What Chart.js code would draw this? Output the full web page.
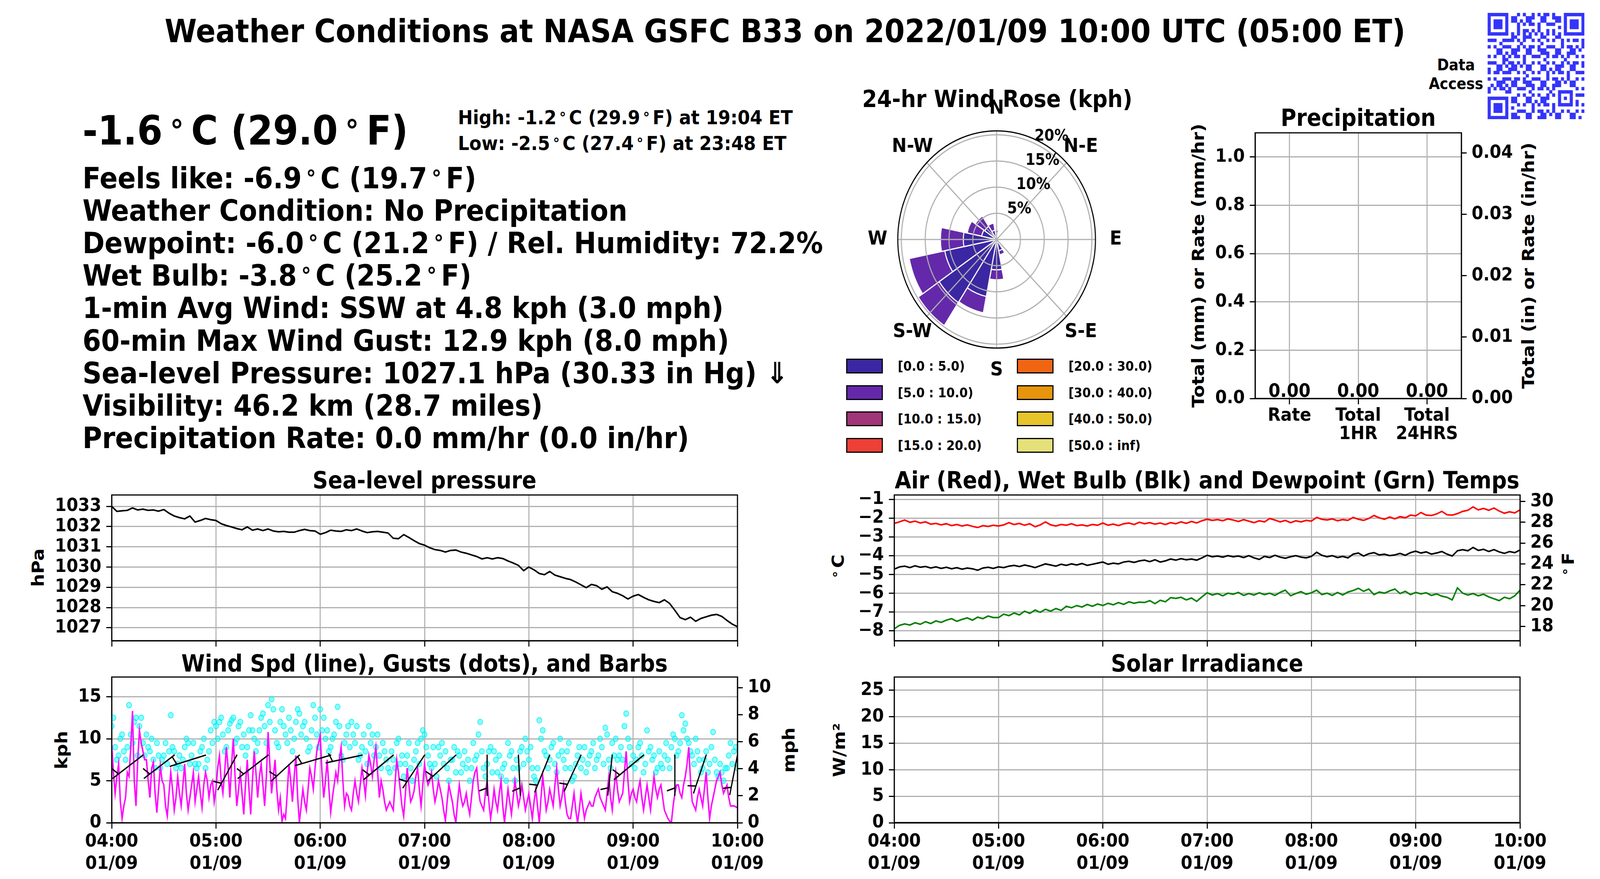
<!DOCTYPE html>
<html>
<head>
<meta charset="utf-8">
<title>Weather Conditions at NASA GSFC B33</title>
<script src="https://cdn.jsdelivr.net/npm/chart.js@4.4.1/dist/chart.umd.min.js"></script>
<style>
  html, body { margin: 0; padding: 0; background: #fff; overflow: hidden; }
  body { font-family: 'DejaVu Sans', sans-serif; font-weight: bold; color: #000; }
  #page { position: absolute; left: 0; top: 0; width: 4500px; height: 2250px; transform-origin: 0 0; background: #fff; }
  .t { position: absolute; white-space: nowrap; line-height: 1; }
  .dg { display: inline-block; width: 0.7em; text-align: center; }
  .big .dg { width: 0.78em; }
  .dg span { font-size: 0.75em; vertical-align: 0.1em; }
  canvas { position: absolute; }
  .lbox { position: absolute; width: 97px; height: 32px; border: 3px solid #000; }
</style>
</head>
<body>
<div id="page"></div>
<script>
// ---- data (times are minutes after 04:00) ----
const hourTicks = ['04:00', '05:00', '06:00', '07:00', '08:00', '09:00', '10:00'];
const dateTick = '01/09';

// sea-level pressure, hPa, every 3 min
const pressure3min = [
  1033.00, 1032.75, 1032.78, 1032.80, 1032.92, 1032.82, 1032.86, 1032.80, 1032.82, 1032.76,
  1032.84, 1032.66, 1032.52, 1032.44, 1032.38, 1032.52, 1032.22, 1032.30, 1032.40, 1032.34,
  1032.30, 1032.14, 1032.05, 1031.98, 1031.90, 1031.84, 1031.98, 1031.82, 1031.88, 1031.80,
  1031.88, 1031.78, 1031.74, 1031.76, 1031.72, 1031.72, 1031.80, 1031.86, 1031.80, 1031.78,
  1031.62, 1031.70, 1031.82, 1031.78, 1031.76, 1031.84, 1031.80, 1031.88, 1031.78, 1031.70,
  1031.74, 1031.76, 1031.72, 1031.68, 1031.42, 1031.40, 1031.60, 1031.46, 1031.30, 1031.16,
  1031.08, 1030.95, 1030.86, 1030.82, 1030.74, 1030.82, 1030.84, 1030.74, 1030.68, 1030.60,
  1030.52, 1030.40, 1030.46, 1030.40, 1030.46, 1030.42, 1030.30, 1030.20, 1030.08, 1029.82,
  1030.00, 1029.86, 1029.68, 1029.62, 1029.78, 1029.60, 1029.52, 1029.44, 1029.38, 1029.26,
  1029.12, 1028.98, 1029.14, 1029.08, 1028.90, 1029.02, 1028.78, 1028.70, 1028.58, 1028.42,
  1028.56, 1028.64, 1028.50, 1028.38, 1028.30, 1028.24, 1028.38, 1028.20, 1027.86, 1027.50,
  1027.40, 1027.52, 1027.32, 1027.46, 1027.54, 1027.62, 1027.66, 1027.56, 1027.36, 1027.18,
  1027.05
];

// temperatures, deg C, every 3 min
const airTemp3min = [
  -2.28, -2.20, -2.10, -2.22, -2.16, -2.26, -2.20, -2.32, -2.28, -2.36,
  -2.30, -2.40, -2.34, -2.42, -2.36, -2.44, -2.50, -2.40, -2.44, -2.38,
  -2.42, -2.36, -2.24, -2.34, -2.28, -2.38, -2.30, -2.46, -2.36, -2.20,
  -2.36, -2.42, -2.34, -2.38, -2.30, -2.40, -2.36, -2.42, -2.34, -2.38,
  -2.26, -2.38, -2.32, -2.40, -2.30, -2.26, -2.34, -2.22, -2.30, -2.24,
  -2.32, -2.26, -2.34, -2.24, -2.30, -2.20, -2.28, -2.18, -2.26, -2.14,
  -2.06, -2.12, -2.08, -2.14, -2.04, -2.10, -2.18, -2.08, -2.16, -2.24,
  -2.14, -2.20, -2.02, -2.10, -2.20, -2.12, -2.24, -2.14, -2.20, -2.12,
  -2.16, -1.96, -2.06, -2.10, -2.04, -2.14, -2.08, -2.12, -1.96, -2.06,
  -2.12, -2.02, -1.86, -1.98, -2.06, -1.94, -2.04, -1.92, -1.98, -1.84,
  -1.88, -1.70, -1.84, -1.86, -1.78, -1.64, -1.82, -1.84, -1.76, -1.64,
  -1.58, -1.40, -1.56, -1.48, -1.58, -1.46, -1.62, -1.74, -1.66, -1.72,
  -1.56
];
const wetBulb3min = [
  -4.72, -4.60, -4.56, -4.64, -4.54, -4.62, -4.58, -4.66, -4.60, -4.68,
  -4.62, -4.70, -4.64, -4.72, -4.66, -4.70, -4.78, -4.66, -4.62, -4.68,
  -4.60, -4.64, -4.56, -4.52, -4.58, -4.50, -4.56, -4.64, -4.54, -4.44,
  -4.50, -4.56, -4.46, -4.52, -4.44, -4.50, -4.42, -4.52, -4.46, -4.40,
  -4.34, -4.46, -4.40, -4.44, -4.34, -4.30, -4.36, -4.28, -4.24, -4.32,
  -4.22, -4.34, -4.28, -4.18, -4.24, -4.16, -4.22, -4.18, -4.24, -4.12,
  -3.98, -4.06, -4.02, -4.08, -4.00, -4.06, -4.02, -4.10, -4.00, -4.12,
  -4.20, -4.04, -4.10, -3.98, -4.08, -4.14, -4.06, -4.00, -4.08, -4.12,
  -4.04, -3.82, -3.98, -4.06, -4.00, -4.10, -4.04, -4.12, -3.92, -3.86,
  -4.02, -3.90, -3.84, -3.96, -3.92, -4.00, -3.96, -3.88, -3.98, -3.84,
  -3.76, -3.86, -3.80, -3.92, -3.86, -3.78, -3.92, -4.02, -3.74, -3.68,
  -3.74, -3.56, -3.72, -3.66, -3.78, -3.68, -3.80, -3.88, -3.78, -3.84,
  -3.70
];
const dewpoint3min = [
  -7.90, -7.72, -7.64, -7.70, -7.58, -7.66, -7.52, -7.62, -7.48, -7.56,
  -7.44, -7.36, -7.50, -7.40, -7.32, -7.44, -7.28, -7.36, -7.22, -7.30,
  -7.30, -7.12, -7.20, -7.06, -7.16, -6.96, -7.08, -6.90, -7.02, -6.86,
  -6.96, -6.82, -6.92, -6.70, -6.78, -6.66, -6.74, -6.60, -6.70, -6.58,
  -6.66, -6.54, -6.62, -6.50, -6.60, -6.46, -6.54, -6.48, -6.50, -6.40,
  -6.56, -6.38, -6.46, -6.24, -6.28, -6.22, -6.36, -6.26, -6.44, -6.20,
  -5.98, -6.10, -6.02, -6.14, -6.00, -6.06, -5.96, -6.12, -6.02, -6.10,
  -5.98, -6.08, -6.00, -6.12, -5.96, -5.84, -6.14, -6.02, -5.92, -6.06,
  -5.98, -5.84, -6.08, -6.00, -6.12, -5.96, -6.10, -5.94, -5.86, -5.74,
  -5.90, -5.78, -6.08, -5.94, -6.00, -5.88, -5.78, -6.02, -5.90, -6.08,
  -5.96, -6.04, -5.98, -6.12, -6.04, -6.16, -6.22, -6.36, -5.72, -6.00,
  -6.10, -6.02, -6.14, -6.06, -6.20, -6.30, -6.40, -6.22, -6.30, -6.14,
  -5.84
];

// 1-min wind speed and gusts, kph (one row = 20 minutes)
const windSpeed1min = [
  9.5, 6.0, 3.5, 5.5, 7.0, 2.5, 0.5, 2.0, 3.0, 6.0, 5.5, 9.0, 13.3, 5.0, 2.0, 7.5, 11.0, 9.5, 8.5, 7.5,
  7.5, 5.0, 3.0, 6.5, 7.2, 3.5, 1.2, 4.0, 6.8, 5.0, 4.5, 2.0, 0.8, 3.5, 6.0, 4.0, 1.5, 3.0, 5.5, 3.5,
  2.0, 4.5, 7.0, 3.5, 1.5, 3.0, 4.5, 6.0, 2.5, 4.0, 5.5, 3.5, 1.8, 4.5, 6.0, 5.0, 3.0, 4.5, 5.0, 2.5,
  4.0, 6.5, 8.0, 5.0, 3.5, 6.0, 9.0, 6.5, 3.0, 7.0, 10.0, 5.5, 2.0, 4.0, 6.0, 3.5, 1.0, 4.5, 7.5, 4.0,
  1.0, 5.0, 8.5, 6.0, 3.0, 5.5, 7.0, 4.5, 2.0, 5.5, 10.8, 7.0, 3.5, 5.5, 7.5, 4.0, 1.5, 3.0, 0.2, 1.0,
  0.5, 3.5, 7.0, 5.0, 2.5, 5.5, 8.0, 3.0, 0.0, 2.0, 4.0, 2.5, 1.5, 4.0, 6.5, 5.5, 4.0, 6.5, 8.5, 9.5,
  10.4, 6.0, 3.0, 5.0, 7.5, 4.0, 1.2, 3.0, 4.5, 6.0, 5.0, 7.5, 9.0, 5.0, 2.0, 3.5, 3.2, 2.0, 1.5, 3.5,
  5.0, 3.5, 2.5, 4.5, 6.5, 5.0, 3.2, 6.0, 8.0, 7.0, 5.5, 7.5, 9.0, 6.0, 3.0, 5.0, 4.0, 2.5, 1.5, 2.0,
  2.5, 2.0, 1.5, 4.5, 7.5, 6.0, 4.0, 2.0, 0.8, 3.5, 6.5, 4.5, 2.5, 3.0, 3.8, 5.5, 6.5, 4.0, 2.0, 4.5,
  7.0, 5.5, 4.5, 5.0, 6.0, 4.0, 2.5, 3.5, 5.0, 4.0, 3.0, 1.5, 0.2, 2.5, 4.5, 3.5, 2.5, 1.0, 0.0, 2.5,
  4.5, 3.0, 2.0, 2.5, 3.5, 2.0, 1.0, 3.0, 5.0, 6.0, 6.5, 4.0, 2.5, 2.0, 1.5, 3.5, 5.0, 2.5, 0.5, 2.0,
  4.0, 2.5, 1.5, 3.5, 5.0, 2.0, 0.0, 2.0, 4.0, 2.5, 1.0, 3.0, 5.0, 3.5, 2.0, 3.0, 4.5, 3.0, 1.5, 2.5,
  3.5, 2.0, 0.5, 2.5, 4.0, 2.0, 0.0, 3.0, 5.5, 3.5, 1.5, 2.5, 4.0, 3.0, 2.0, 4.5, 6.5, 4.0, 2.0, 3.0,
  4.5, 2.5, 1.0, 0.5, 0.5, 2.0, 3.5, 1.5, 0.0, 1.5, 3.5, 2.0, 0.5, 1.5, 2.0, 2.5, 2.0, 2.0, 3.0, 3.5,
  4.0, 3.0, 2.5, 2.0, 1.5, 3.5, 5.5, 3.0, 1.5, 4.0, 6.0, 4.0, 2.5, 3.0, 3.5, 6.0, 8.5, 5.0, 2.5, 3.5,
  4.0, 3.0, 2.5, 4.0, 5.0, 3.0, 1.5, 3.0, 4.5, 3.0, 1.5, 3.5, 5.5, 4.0, 3.0, 4.0, 4.5, 3.0, 1.5, 1.0,
  0.5, 0.2, 0.0, 2.0, 3.5, 4.5, 4.5, 3.5, 3.0, 4.5, 5.5, 7.0, 9.0, 5.0, 2.5, 2.0, 1.5, 3.0, 4.0, 3.0,
  2.0, 4.0, 6.0, 3.0, 0.5, 2.0, 3.0, 4.0, 5.0, 5.5, 6.0, 4.5, 3.5, 4.0, 4.5, 3.0, 2.0, 2.0, 2.0, 1.9,
  1.8
];
const windGust1min = [
  11.5, 12.5, 9.0, 7.5, 8.0, 10.0, 10.5, 8.5, 7.5, 9.0, 14.0, 10.5, 9.5, 12.0, 12.5, 8.0, 11.5, 12.5, 9.5, 8.0,
  10.5, 9.0, 8.5, 10.0, 7.5, 6.5, 9.5, 8.0, 6.5, 7.5, 8.0, 9.5, 7.0, 8.5, 12.8, 9.0, 8.5, 6.5, 7.0, 8.0,
  6.5, 7.5, 9.0, 10.0, 9.5, 7.0, 8.0, 9.5, 7.0, 6.5, 7.0, 8.5, 9.0, 10.0, 6.5, 7.5, 8.5, 11.0, 9.5, 12.0,
  11.5, 10.0, 12.0, 12.5, 10.5, 8.5, 9.0, 11.0, 11.8, 12.2, 12.5, 9.5, 10.0, 11.5, 12.0, 9.0, 10.5, 8.0, 9.0, 11.0,
  12.8, 11.0, 10.0, 8.5, 9.5, 11.0, 12.5, 13.0, 11.5, 9.5, 14.0, 12.0, 14.7, 13.5, 11.0, 9.5, 9.0, 12.0, 13.5, 11.5,
  10.5, 9.5, 12.5, 11.0, 8.5, 10.0, 12.0, 13.5, 13.0, 10.5, 11.5, 12.0, 10.0, 8.5, 9.0, 11.0, 14.0, 12.5, 10.5, 9.0,
  13.5, 11.0, 12.5, 10.0, 11.0, 8.5, 9.0, 10.0, 10.5, 12.0, 13.8, 11.5, 8.0, 7.5, 9.5, 10.5, 11.5, 9.0, 12.0, 10.5,
  9.5, 11.5, 7.5, 8.0, 9.0, 10.5, 8.5, 7.0, 11.5, 9.5, 10.5, 8.0, 9.0, 10.5, 8.0, 6.5, 9.5, 8.5, 7.5, 6.5,
  6.0, 8.5, 7.5, 6.5, 9.5, 10.0, 7.0, 8.0, 5.5, 7.0, 8.0, 9.5, 6.5, 5.0, 7.5, 8.5, 9.5, 7.0, 10.0, 11.0,
  10.5, 9.0, 8.0, 7.0, 6.5, 9.0, 7.0, 5.5, 9.0, 8.0, 9.5, 7.0, 8.5, 6.5, 5.0, 7.5, 7.5, 9.0, 6.0, 8.5,
  8.0, 6.0, 7.0, 8.5, 6.5, 7.5, 5.0, 6.5, 9.5, 7.5, 8.0, 10.5, 12.0, 8.5, 6.5, 5.5, 7.0, 8.5, 9.0, 6.0,
  8.5, 7.5, 6.0, 8.0, 5.5, 6.5, 7.0, 5.0, 9.5, 8.0, 8.5, 6.5, 5.0, 7.5, 6.5, 8.5, 9.0, 7.0, 10.0, 8.5,
  7.5, 9.0, 6.5, 5.5, 5.0, 6.5, 12.2, 10.0, 11.0, 8.5, 8.0, 6.5, 7.5, 9.0, 9.5, 7.0, 6.0, 8.0, 10.0, 8.5,
  7.5, 6.5, 8.5, 9.5, 6.5, 5.0, 5.5, 7.0, 8.0, 9.0, 6.5, 7.5, 9.0, 6.0, 7.0, 8.0, 8.5, 9.5, 6.5, 7.5,
  8.0, 10.0, 9.0, 7.0, 11.3, 10.5, 7.5, 6.5, 9.5, 8.0, 10.0, 7.5, 8.0, 9.0, 7.5, 11.5, 13.0, 10.0, 9.0, 7.0,
  8.0, 6.5, 7.5, 9.0, 9.5, 8.0, 6.0, 7.0, 11.0, 8.5, 9.0, 7.5, 8.0, 6.0, 6.5, 8.5, 7.0, 6.5, 8.0, 9.5,
  7.5, 6.5, 9.0, 10.5, 10.0, 8.0, 8.5, 9.5, 12.8, 11.0, 11.8, 10.0, 9.5, 8.5, 8.0, 7.0, 10.0, 8.5, 7.5, 6.0,
  6.5, 7.5, 8.5, 6.0, 7.0, 9.0, 10.8, 7.5, 6.0, 5.5, 7.0, 6.0, 5.0, 6.5, 6.5, 8.0, 9.5, 7.0, 8.5, 9.0,
  6.5
];

// wind barbs: time, direction wind comes from (deg), speed (mph)
const barbMinutes = [18, 36, 54, 72, 90, 108, 126, 144, 162, 180, 198, 216, 234, 252, 270, 288, 306, 324, 342, 360];
const barbDirection = [235, 235, 254, 211, 235, 230, 255, 259, 233, 216, 230, 180, 177, 204, 207, 187, 233, 180, 200, 192];
const barbSpeedMph = [4.0, 4.5, 4.0, 3.5, 4.5, 4.0, 4.5, 5.0, 4.0, 4.0, 3.5, 3.0, 3.0, 3.5, 3.5, 3.0, 3.5, 3.0, 3.0, 3.0];

// solar irradiance, W/m2, every 10 min (night)
const solarIrr10min = [0, 0, 0, 0, 0, 0, 0, 0, 0, 0, 0, 0, 0, 0, 0, 0, 0, 0, 0, 0, 0, 0, 0, 0, 0, 0, 0, 0, 0, 0, 0, 0, 0, 0, 0, 0, 0];

// precipitation
const precipLabels = ['Rate', ['Total', '1HR'], ['Total', '24HRS']];
const precipValues = [0.00, 0.00, 0.00];

// 24-hr wind rose, % of time per direction (N, NNE, ... NNW) and speed bin
const roseDirections = ['N', 'NNE', 'NE', 'ENE', 'E', 'ESE', 'SE', 'SSE', 'S', 'SSW', 'SW', 'WSW', 'W', 'WNW', 'NW', 'NNW'];
const roseBinLabels = ['[0.0 : 5.0)', '[5.0 : 10.0)', '[10.0 : 15.0)', '[15.0 : 20.0)', '[20.0 : 30.0)', '[30.0 : 40.0)', '[40.0 : 50.0)', '[50.0 : inf)'];
const roseBinColors = ['#3b27a1', '#6429aa', '#a0357a', '#ee4036', '#f06512', '#e6950c', '#e6c42a', '#e6e07a'];
const rose0to5   = [1.2, 0.3, 0, 0, 0, 0.2, 0.5, 2.2, 5.8, 11.1, 14.5, 11.1, 7.0, 3.2, 3.0, 1.8];
const rose5to10  = [0.6, 0, 0, 0, 0, 0, 0, 0.8, 1.9, 3.2, 5.3, 7.6, 4.8, 3.1, 2.4, 1.4];
const rose10to15 = [0, 0, 0, 0, 0, 0, 0, 0, 0, 0, 0.15, 0.2, 0, 0, 0.1, 0];
const rose15to20 = [0, 0, 0, 0, 0, 0, 0, 0, 0, 0, 0, 0, 0, 0, 0, 0];
const rose20to30 = [0, 0, 0, 0, 0, 0, 0, 0, 0, 0, 0, 0, 0, 0, 0, 0];
const rose30to40 = [0, 0, 0, 0, 0, 0, 0, 0, 0, 0, 0, 0, 0, 0, 0, 0];
const rose40to50 = [0, 0, 0, 0, 0, 0, 0, 0, 0, 0, 0, 0, 0, 0, 0, 0];
const rose50up   = [0, 0, 0, 0, 0, 0, 0, 0, 0, 0, 0, 0, 0, 0, 0, 0];
const roseRings = [5, 10, 15, 20];

// ---- page: drawn on a 4500x2250 sheet, fitted to the window ----
const page = document.getElementById('page');
page.style.transform = 'scale(' + (window.innerWidth / 4500) + ',' + (window.innerHeight / 2250) + ')';

const GRID = '#b0b0b0';
Chart.defaults.font.family = 'DejaVu Sans';
Chart.defaults.font.size = 47;
Chart.defaults.font.weight = 'bold';
Chart.defaults.color = '#000';

function addText(html, x, baseline, size, align, cls) {
    const d = document.createElement('div');
    d.className = 't' + (cls ? ' ' + cls : '');
    d.innerHTML = html;
    d.style.fontSize = size + 'px';
    d.style.top = (baseline - 0.846 * size) + 'px';
    d.style.left = x + 'px';
    if (align === 'center') d.style.transform = 'translateX(-50%)';
    page.appendChild(d);
}

function addVText(html, cx, cy, size) {
    const d = document.createElement('div');
    d.className = 't';
    d.innerHTML = html;
    d.style.fontSize = size + 'px';
    d.style.left = cx + 'px';
    d.style.top = cy + 'px';
    d.style.transform = 'translate(-50%, -50%) rotate(-90deg)';
    page.appendChild(d);
}

// canvas placed so that the plot area lands on 'plot'
function placeCanvas(plot, ext) {
    const c = document.createElement('canvas');
    const w = plot.r - plot.l + ext.l + ext.r;
    const h = plot.b - plot.t + ext.t + ext.b;
    c.width = w; c.height = h;
    c.style.width = w + 'px'; c.style.height = h + 'px';
    c.style.left = (plot.l - ext.l) + 'px';
    c.style.top = (plot.t - ext.t) + 'px';
    page.appendChild(c);
    return c;
}

function timeAxis(showLabels, height) {
    return {
        type: 'linear', min: 0, max: 360,
        ticks: {
            stepSize: 60, autoSkip: false, maxRotation: 0, minRotation: 0, display: showLabels, padding: 6,
            callback: v => [hourTicks[Math.round(v / 60)], dateTick]
        },
        grid: { color: GRID, lineWidth: 3, tickLength: 15, tickColor: '#000', tickWidth: 3 },
        border: { color: '#000', width: 3 },
        afterFit: s => { s.height = height; s.paddingLeft = 0; s.paddingRight = 0; }
    };
}

function valueAxis(pos, min, max, step, width, fmt, onChart) {
    return {
        type: 'linear', position: pos, min: min, max: max,
        ticks: { stepSize: step, includeBounds: false, autoSkip: false, padding: 14, callback: fmt },
        grid: { drawOnChartArea: onChart, color: GRID, lineWidth: 3, tickLength: 15, tickColor: '#000', tickWidth: 3 },
        border: { color: '#000', width: 3 },
        afterFit: s => { s.width = width; s.paddingTop = 0; s.paddingBottom = 0; }
    };
}

const framePlugin = {
    id: 'frame',
    afterDatasetsDraw(chart) {
        const a = chart.chartArea, ctx = chart.ctx;
        ctx.save();
        ctx.strokeStyle = '#000';
        ctx.lineWidth = 3;
        ctx.strokeRect(a.left, a.top, a.right - a.left, a.bottom - a.top);
        ctx.restore();
    }
};

function baseOptions(padTop, padRight) {
    return {
        responsive: false, animation: false, devicePixelRatio: 1, events: [],
        layout: { padding: { top: padTop, right: padRight, left: 0, bottom: 0 } },
        plugins: { legend: { display: false }, tooltip: { enabled: false } }
    };
}

// ---- header text ----
const DEG = '<span class="dg"><span>&#176;</span></span>';
addText('Weather Conditions at NASA GSFC B33 on 2022/01/09 10:00 UTC (05:00 ET)', 2208, 108, 82, 'center');
addText('-1.6' + DEG + 'C (29.0' + DEG + 'F)', 232, 370, 103, null, 'big');
addText('High: -1.2' + DEG + 'C (29.9' + DEG + 'F) at 19:04 ET', 1288, 318, 50);
addText('Low: -2.5' + DEG + 'C (27.4' + DEG + 'F) at 23:48 ET', 1288, 384, 50);
const infoLines = [
    'Feels like: -6.9' + DEG + 'C (19.7' + DEG + 'F)',
    'Weather Condition: No Precipitation',
    'Dewpoint: -6.0' + DEG + 'C (21.2' + DEG + 'F) / Rel. Humidity: 72.2%',
    'Wet Bulb: -3.8' + DEG + 'C (25.2' + DEG + 'F)',
    '1-min Avg Wind: SSW at 4.8 kph (3.0 mph)',
    '60-min Max Wind Gust: 12.9 kph (8.0 mph)',
    'Sea-level Pressure: 1027.1 hPa (30.33 in Hg) &#8659;',
    'Visibility: 46.2 km (28.7 miles)',
    'Precipitation Rate: 0.0 mm/hr (0.0 in/hr)'
];
infoLines.forEach((s, i) => addText(s, 232, 482 + i * 83.2, 75));

addText('Data', 4095, 180, 40, 'center');
addText('Access', 4095, 228, 40, 'center');

// QR-style data access block
(function drawQR() {
    const n = 33, size = 272, m = size / n;
    const c = document.createElement('canvas');
    c.width = size; c.height = size;
    c.style.left = '4184px'; c.style.top = '33px';
    page.appendChild(c);
    const ctx = c.getContext('2d');
    ctx.fillStyle = '#3434fb';
    const on = (i, j) => ctx.fillRect(j * m, i * m, m + 0.5, m + 0.5);
    const finder = (r0, c0) => {
        for (let i = 0; i < 7; i++) for (let j = 0; j < 7; j++) {
            if (i === 0 || i === 6 || j === 0 || j === 6 || (i >= 2 && i <= 4 && j >= 2 && j <= 4)) on(r0 + i, c0 + j);
        }
    };
    finder(0, 0); finder(0, n - 7); finder(n - 7, 0);
    for (let i = 0; i < 5; i++) for (let j = 0; j < 5; j++) {
        if (i === 0 || i === 4 || j === 0 || j === 4 || (i === 2 && j === 2)) on(24 + i, 24 + j);
    }
    for (let k = 8; k < n - 8; k++) { if (k % 2 === 0) { on(6, k); on(k, 6); } }
    for (let i = 0; i < n; i++) for (let j = 0; j < n; j++) {
        const inFinder = (i < 8 && j < 8) || (i < 8 && j >= n - 8) || (i >= n - 8 && j < 8);
        const inAlign = i >= 23 && i <= 29 && j >= 23 && j <= 29;
        if (inFinder || inAlign || i === 6 || j === 6) continue;
        if (((i * 7 + j * 13 + i * j * 3) % 5) < 2 || ((i + 2 * j) % 7 === 3)) on(i, j);
    }
})();

// ---- axes titles and labels ----
addText('24-hr Wind Rose (kph)', 2805, 274, 60, 'center');
addText('Precipitation', 3820, 322, 60, 'center');
addText('Sea-level pressure', 1194, 1250, 60, 'center');
addText('Wind Spd (line), Gusts (dots), and Barbs', 1194, 1719, 60, 'center');
addText('Air (Red), Wet Bulb (Blk) and Dewpoint (Grn) Temps', 3395, 1250, 60, 'center');
addText('Solar Irradiance', 3395, 1719, 60, 'center');
addVText('hPa', 106, 1453, 47);
addVText('kph', 172, 1920, 47);
addVText('mph', 2218, 1920, 47);
addVText(DEG + 'C', 2357, 1453, 47);
addVText(DEG + 'F', 4410, 1447, 47);
addVText('W/m&#178;', 2360, 1920, 47);
addVText('Total (mm) or Rate (mm/hr)', 3370, 680, 47);
addVText('Total (in) or Rate (in/hr)', 4298, 680, 47);

// ---- sea-level pressure ----
new Chart(placeCanvas({ l: 314, t: 1267, r: 2074, b: 1640 }, { l: 214, t: 10, r: 86, b: 60 }), {
    type: 'line',
    data: { datasets: [{
        data: pressure3min.map((v, i) => ({ x: i * 3, y: v })),
        borderColor: '#000', borderWidth: 4, pointRadius: 0, borderJoinStyle: 'round'
    }] },
    options: Object.assign(baseOptions(10, 86), {
        scales: {
            x: timeAxis(false, 60),
            y: valueAxis('left', 1026.36, 1033.56, 1, 214, v => String(v), true)
        }
    }),
    plugins: [framePlugin]
});

// ---- wind speed, gusts and barbs ----
const barbPlugin = {
    id: 'barbs',
    afterDatasetsDraw(chart) {
        const xs = chart.scales.x, ys = chart.scales.y2, a = chart.chartArea, ctx = chart.ctx;
        const L = 103;
        ctx.save();
        ctx.beginPath();
        ctx.rect(a.left, a.top, a.right - a.left, a.bottom - a.top);
        ctx.clip();
        ctx.strokeStyle = '#000';
        ctx.lineWidth = 3.5;
        ctx.lineCap = 'round';
        barbMinutes.forEach((t, i) => {
            const x0 = xs.getPixelForValue(t), y0 = ys.getPixelForValue(5);
            const b = barbDirection[i] * Math.PI / 180;
            const dx = Math.sin(b), dy = -Math.cos(b);
            ctx.beginPath();
            ctx.moveTo(x0, y0);
            ctx.lineTo(x0 + dx * L, y0 + dy * L);
            if (barbSpeedMph[i] * 0.869 >= 2.5) {
                const px = -dy, py = dx;
                const bx = x0 + dx * (L - 19), by = y0 + dy * (L - 19);
                ctx.moveTo(bx, by);
                ctx.lineTo(bx + px * 21 + dx * 7, by + py * 21 + dy * 7);
            }
            ctx.stroke();
        });
        ctx.restore();
    }
};
const kphMax = 17.35;
new Chart(placeCanvas({ l: 314, t: 1733, r: 2074, b: 2106 }, { l: 214, t: 10, r: 226, b: 144 }), {
    type: 'line',
    data: { datasets: [
        { data: windSpeed1min.map((v, i) => ({ x: i, y: v })), borderColor: '#ff00ff', borderWidth: 4,
          pointRadius: 0, yAxisID: 'y', order: 1 },
        { data: windGust1min.map((v, i) => ({ x: i, y: v })), showLine: false, pointRadius: 7,
          pointBackgroundColor: 'rgba(0,255,255,0.45)', pointBorderColor: 'rgba(0,238,238,0.8)', pointBorderWidth: 2,
          yAxisID: 'y', order: 2 }
    ] },
    options: Object.assign(baseOptions(10, 0), {
        scales: {
            x: timeAxis(true, 144),
            y: valueAxis('left', 0, kphMax, 5, 214, v => String(v), true),
            y2: valueAxis('right', 0, kphMax / 1.609344, 2, 226, v => String(v), false)
        }
    }),
    plugins: [framePlugin, barbPlugin]
});

// ---- temperatures ----
const cMin = -8.535, cMax = -0.765;
new Chart(placeCanvas({ l: 2515, t: 1267, r: 4275, b: 1640 }, { l: 135, t: 10, r: 225, b: 60 }), {
    type: 'line',
    data: { datasets: [
        { data: airTemp3min.map((v, i) => ({ x: i * 3, y: v })), borderColor: '#ff0000', borderWidth: 4, pointRadius: 0 },
        { data: wetBulb3min.map((v, i) => ({ x: i * 3, y: v })), borderColor: '#000000', borderWidth: 4, pointRadius: 0 },
        { data: dewpoint3min.map((v, i) => ({ x: i * 3, y: v })), borderColor: '#008000', borderWidth: 4, pointRadius: 0 }
    ] },
    options: Object.assign(baseOptions(10, 0), {
        scales: {
            x: timeAxis(false, 60),
            y: valueAxis('left', cMin, cMax, 1, 135, v => String(v).replace('-', '\u2212'), true),
            y2: valueAxis('right', cMin * 9 / 5 + 32, cMax * 9 / 5 + 32, 2, 225, v => String(v), false)
        }
    }),
    plugins: [framePlugin]
});

// ---- solar irradiance ----
new Chart(placeCanvas({ l: 2515, t: 1733, r: 4275, b: 2106 }, { l: 135, t: 10, r: 125, b: 144 }), {
    type: 'line',
    data: { datasets: [{
        data: solarIrr10min.map((v, i) => ({ x: i * 10, y: v })),
        borderColor: '#000', borderWidth: 4, pointRadius: 0
    }] },
    options: Object.assign(baseOptions(10, 125), {
        scales: {
            x: timeAxis(true, 144),
            y: valueAxis('left', 0, 27.5, 5, 135, v => String(v), true)
        }
    }),
    plugins: [framePlugin]
});

// ---- precipitation ----
const precipLabelPlugin = {
    id: 'precipLabels',
    afterDatasetsDraw(chart) {
        const xs = chart.scales.x, ys = chart.scales.y, ctx = chart.ctx;
        ctx.save();
        ctx.font = 'bold 48px "DejaVu Sans"';
        ctx.fillStyle = '#000';
        ctx.textAlign = 'center';
        ctx.textBaseline = 'alphabetic';
        precipValues.forEach((v, i) => {
            ctx.fillText(v.toFixed(2), xs.getPixelForValue(i), ys.getPixelForValue(v) - 4);
        });
        ctx.restore();
    }
};
new Chart(placeCanvas({ l: 3530, t: 340, r: 4110, b: 1020 }, { l: 130, t: 10, r: 170, b: 160 }), {
    type: 'bar',
    data: { labels: precipLabels, datasets: [{ data: precipValues, backgroundColor: '#1f77b4' }] },
    options: Object.assign(baseOptions(10, 0), {
        scales: {
            x: {
                type: 'category', offset: true,
                ticks: { autoSkip: false, maxRotation: 0, padding: 6, font: { lineHeight: 1.0 } },
                grid: { offset: false, color: GRID, lineWidth: 3, tickLength: 15, tickColor: '#000', tickWidth: 3 },
                border: { color: '#000', width: 3 },
                afterFit: s => { s.height = 160; s.paddingLeft = 0; s.paddingRight = 0; }
            },
            y: valueAxis('left', 0, 1.1, 0.2, 130, v => v.toFixed(1), true),
            y2: valueAxis('right', 0, 1.1 / 25.4, 0.01, 170, v => v.toFixed(2), false)
        }
    }),
    plugins: [framePlugin, precipLabelPlugin]
});

// ---- wind rose ----
const roseBins = [rose0to5, rose5to10, rose10to15, rose15to20, rose20to30, rose30to40, rose40to50, rose50up];
const roseCumulative = [];
roseBins.forEach((bin, k) => {
    roseCumulative.push(bin.map((v, d) => v + (k > 0 ? roseCumulative[k - 1][d] : 0)));
});
const roseDecor = {
    id: 'roseDecor',
    afterDatasetsDraw(chart) {
        const s = chart.scales.r, ctx = chart.ctx;
        const xc = s.xCenter, yc = s.yCenter, R = s.drawingArea;
        ctx.save();
        ctx.strokeStyle = GRID;
        ctx.lineWidth = 3;
        roseRings.forEach(v => {
            ctx.beginPath();
            ctx.arc(xc, yc, s.getDistanceFromCenterForValue(v), 0, 2 * Math.PI);
            ctx.stroke();
        });
        for (let k = 0; k < 8; k++) {
            const a = k * Math.PI / 4;
            ctx.beginPath();
            ctx.moveTo(xc, yc);
            ctx.lineTo(xc + R * Math.sin(a), yc - R * Math.cos(a));
            ctx.stroke();
        }
        ctx.strokeStyle = '#000';
        ctx.beginPath();
        ctx.arc(xc, yc, R, 0, 2 * Math.PI);
        ctx.stroke();
        ctx.fillStyle = '#000';
        ctx.font = 'bold 40px "DejaVu Sans"';
        ctx.textAlign = 'left';
        ctx.textBaseline = 'bottom';
        const la = 22.5 * Math.PI / 180;
        roseRings.forEach(v => {
            const d = s.getDistanceFromCenterForValue(v);
            ctx.fillText(v + '%', xc + d * Math.sin(la) + 4, yc - d * Math.cos(la) + 4);
        });
        ctx.font = 'bold 50px "DejaVu Sans"';
        ctx.textAlign = 'center';
        ctx.textBaseline = 'middle';
        ['N', 'N-E', 'E', 'S-E', 'S', 'S-W', 'W', 'N-W'].forEach((lab, k) => {
            const a = k * Math.PI / 4;
            ctx.fillText(lab, xc + R * 1.205 * Math.sin(a), yc - R * 1.205 * Math.cos(a));
        });
        ctx.restore();
    }
};
new Chart(placeCanvas({ l: 2525, t: 335, r: 3081, b: 891 }, { l: 122, t: 122, r: 122, b: 122 }), {
    type: 'polarArea',
    data: {
        labels: roseDirections,
        datasets: roseCumulative.map((vals, k) => ({
            label: roseBinLabels[k], data: vals,
            backgroundColor: roseBinColors[k], borderColor: '#ffffff', borderWidth: 3
        }))
    },
    options: {
        responsive: false, animation: false, devicePixelRatio: 1, events: [],
        layout: { padding: 122 },
        plugins: { legend: { display: false }, tooltip: { enabled: false } },
        scales: {
            r: {
                min: 0, max: 20.75, startAngle: -11.25,
                ticks: { display: false, stepSize: 5, includeBounds: false },
                grid: { display: false }, angleLines: { display: false }, pointLabels: { display: false }
            }
        }
    },
    plugins: [roseDecor]
});

// wind rose legend
roseBinLabels.forEach((lab, k) => {
    const col = Math.floor(k / 4), row = k % 4;
    const cy = 937 + row * 67.5;
    const bx = col === 0 ? 2380 : 2860;
    const b = document.createElement('div');
    b.className = 'lbox';
    b.style.left = bx + 'px';
    b.style.top = (cy - 19) + 'px';
    b.style.background = roseBinColors[k];
    page.appendChild(b);
    addText(lab, bx + 145, cy + 12, 34);
});
</script>
</body>
</html>
